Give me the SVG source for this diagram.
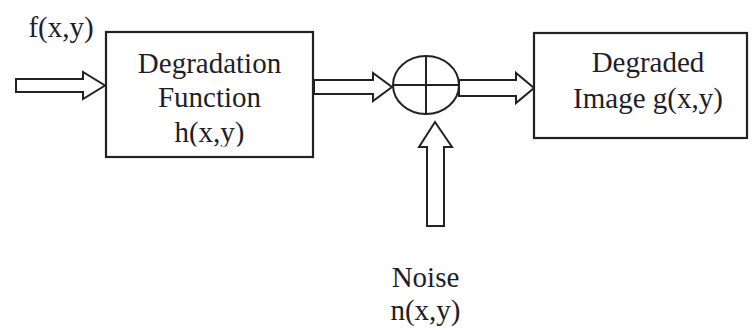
<svg xmlns="http://www.w3.org/2000/svg" width="752" height="329" viewBox="0 0 752 329">
<style>
.box{fill:#fff;stroke:#222;stroke-width:2.2}
.arr{fill:#fff;stroke:#222;stroke-width:2;stroke-linejoin:miter}
.ln{fill:none;stroke:#222;stroke-width:2}
.t{font-family:'Liberation Serif','DejaVu Serif',serif;font-size:29px;fill:#1e1e2a}
</style>
<defs>
<clipPath id="clipH"><rect x="106" y="110" width="207" height="36.5"/></clipPath>
</defs>
<rect width="752" height="329" fill="#fff"/>
<g id="connectors">
<polygon class="arr" points="16,79 83,79 83,72 105,85.5 83,99 83,92 16,92"/>
<polygon class="arr" points="314,80 373,80 373,73 392,87 373,101 373,94 314,94"/>
<polygon class="arr" points="459,80 516,80 516,73 534,88 516,103 516,96 459,96"/>
<polygon class="arr" points="427,226 427,147 419,147 435,122 452,147 444,147 444,226"/>
</g>
<g id="input-label">
<text class="t" x="61" y="37" text-anchor="middle">f(x,y)</text>
</g>
<g id="degradation">
<rect class="box" x="106" y="32" width="207" height="125"/>
<text class="t" x="209.5" y="73" text-anchor="middle">Degradation</text>
<text class="t" x="209.5" y="107" text-anchor="middle">Function</text>
<text class="t" x="209.5" y="142" text-anchor="middle" clip-path="url(#clipH)">h(x,y)</text>
</g>
<g id="sum">
<ellipse class="ln" cx="426" cy="85" rx="33" ry="29"/>
<line class="ln" x1="426" y1="56" x2="426" y2="114"/>
<line class="ln" x1="393" y1="85" x2="459" y2="85"/>
</g>
<g id="degraded">
<rect class="box" x="534" y="33" width="213" height="105"/>
<text class="t" x="648" y="72" text-anchor="middle">Degraded</text>
<text class="t" x="648" y="108" text-anchor="middle">Image g(x,y)</text>
</g>
<g id="noise">
<text class="t" x="425.5" y="287" text-anchor="middle">Noise</text>
<text class="t" x="425.5" y="320" text-anchor="middle">n(x,y)</text>
</g>
</svg>
